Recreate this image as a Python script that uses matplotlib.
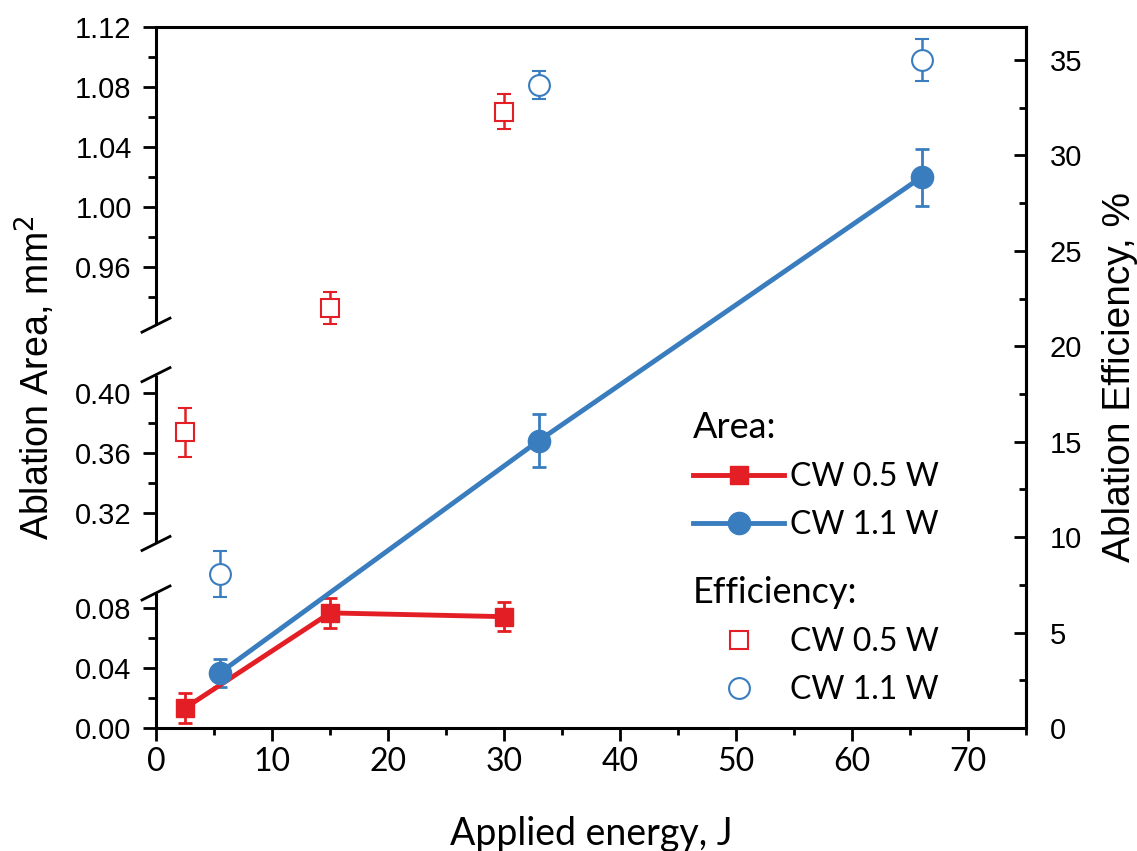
import numpy as np
import matplotlib
matplotlib.use("Agg")
import matplotlib.pyplot as plt
from matplotlib.lines import Line2D
from matplotlib.ticker import FixedLocator, MultipleLocator

plt.rcParams['font.family'] = ['Liberation Sans', 'DejaVu Sans']

# applied energy, J
energy_05 = [2.5, 15, 30]
energy_11 = [5.5, 33, 66]

# ablation area, mm^2 (left axis)
area_05 = [0.0133, 0.0767, 0.0742]
area_05_err = [0.010, 0.010, 0.0095]
area_11 = [0.0367, 0.368, 1.020]
area_11_err = [0.0093, 0.0177, 0.019]

# ablation efficiency, % (right axis)
eff_05 = [15.5, 22.0, 32.3]
eff_05_err = [1.29, 0.85, 0.94]
eff_11 = [8.06, 33.7, 35.0]
eff_11_err = [1.2, 0.74, 1.08]

left_major = [0.00, 0.04, 0.08, 0.32, 0.36, 0.40, 0.96, 1.00, 1.04, 1.08, 1.12]
left_minor = [0.02, 0.06, 0.34, 0.38, 0.94, 0.98, 1.02, 1.06, 1.10]

# visible pieces of the broken left axis
pieces = [(0.0, 0.09), (0.2995, 0.412), (0.9213, 1.12)]
gap = 0.033

RED = '#e31e24'
BLUE = '#3a7dbf'

# piecewise linear mapping used for the broken axis
vals = [pieces[0][0]]
pos = [0.0]
for i, (lo, hi) in enumerate(pieces):
    if i > 0:
        vals.append(lo)
        pos.append(pos[-1] + gap)
    vals.append(hi)
    pos.append(pos[-1] + (hi - lo))
vals = np.array(vals)
pos = np.array(pos)

def fwd(v):
    return np.interp(v, vals, pos)

def inv(p):
    return np.interp(p, pos, vals)

fig = plt.figure(figsize=(11.37, 8.51), dpi=100)
ax = fig.add_axes([156 / 1137, 123 / 851, 870 / 1137, 701 / 851])

ax.set_yscale('function', functions=(fwd, inv))
ax.set_xlim(0, 75)
ax.set_ylim(0, 1.12)

ax.errorbar(energy_05, area_05, yerr=area_05_err, fmt='none', ecolor=RED,
            elinewidth=2, capsize=5, capthick=2, zorder=3)
ax.errorbar(energy_11, area_11, yerr=area_11_err, fmt='none', ecolor=BLUE,
            elinewidth=2, capsize=5, capthick=2, zorder=3)
l05, = ax.plot(energy_05, area_05, '-s', color=RED, lw=3.5, ms=13, zorder=4)
l11, = ax.plot(energy_11, area_11, '-o', color=BLUE, lw=3.5, ms=16, zorder=5)

ax.yaxis.set_major_locator(FixedLocator(left_major))
ax.yaxis.set_minor_locator(FixedLocator(left_minor))
ax.set_yticklabels(['%.2f' % v for v in left_major])
ax.xaxis.set_major_locator(MultipleLocator(10))
ax.xaxis.set_minor_locator(MultipleLocator(5))

ax.tick_params(axis='y', which='major', direction='out', length=9.5, width=2,
               pad=8, labelsize=21)
ax.tick_params(axis='y', which='minor', direction='out', length=5.5, width=2)
ax.tick_params(axis='x', which='major', direction='out', length=9, width=2,
               pad=5, labelsize=23)
ax.tick_params(axis='x', which='minor', direction='out', length=5, width=2)
for lbl in ax.get_xticklabels():
    lbl.set_fontfamily('Lato')

for s in ['top', 'right', 'bottom']:
    ax.spines[s].set_linewidth(2.2)
ax.spines['left'].set_visible(False)

# broken left spine with slash marks
to_axes = ax.transAxes.inverted()
dx, dy = 14 / 870, 7 / 701
for lo, hi in pieces:
    ylo = to_axes.transform(ax.transData.transform((0, lo)))[1]
    yhi = to_axes.transform(ax.transData.transform((0, hi)))[1]
    ax.plot([0, 0], [ylo, yhi], color='black', lw=2.2, transform=ax.transAxes,
            clip_on=False, solid_capstyle='butt', zorder=6)
    if lo > 0:
        ax.plot([-dx, dx], [ylo - dy, ylo + dy], color='black', lw=2,
                transform=ax.transAxes, clip_on=False, zorder=6)
    if hi < 1.12:
        ax.plot([-dx, dx], [yhi - dy, yhi + dy], color='black', lw=2,
                transform=ax.transAxes, clip_on=False, zorder=6)

ax.set_ylabel('Ablation Area, mm$^2$', fontsize=27, rotation=90,
              rotation_mode='anchor', ha='center', va='baseline')
ax.yaxis.set_label_coords(-0.1218, 0.5)
ax.set_xlabel('Applied energy, J', fontsize=27, fontfamily='Lato')
ax.xaxis.set_label_coords(0.5, -0.125)

# efficiency on the right axis
ax2 = ax.twinx()
ax2.set_ylim(0, 36.73)
for s in ['left', 'top', 'bottom']:
    ax2.spines[s].set_visible(False)
ax2.spines['right'].set_linewidth(2.2)
ax2.errorbar(energy_05, eff_05, yerr=eff_05_err, fmt='s', mfc='white', mec=RED,
             mew=1.5, ms=13, ecolor=RED, elinewidth=1.8, capsize=5, capthick=2)
ax2.errorbar(energy_11, eff_11, yerr=eff_11_err, fmt='o', mfc='white', mec=BLUE,
             mew=1.5, ms=15, ecolor=BLUE, elinewidth=1.8, capsize=5, capthick=2)
ax2.yaxis.set_major_locator(MultipleLocator(5))
ax2.yaxis.set_minor_locator(MultipleLocator(2.5))
ax2.tick_params(axis='y', which='major', direction='in', length=9, width=2,
                pad=17, labelsize=21)
ax2.tick_params(axis='y', which='minor', direction='in', length=5, width=2)
ax2.set_ylabel('Ablation Efficiency, %', fontsize=28, rotation=90,
               rotation_mode='anchor', ha='center', va='baseline')
ax2.yaxis.set_label_coords(1.12, 0.5)

# legends
h05 = Line2D([], [], ls='none', marker='s', mfc='white', mec=RED, mew=1.5, ms=13)
h11 = Line2D([], [], ls='none', marker='o', mfc='white', mec=BLUE, mew=1.5, ms=15)
leg_kw = dict(loc='upper left', frameon=False, alignment='left', borderpad=0,
              borderaxespad=0, handlelength=2.85, handletextpad=0.2,
              labelspacing=0.56, prop={'family': 'Lato', 'size': 23},
              title_fontproperties={'family': 'Lato', 'size': 26})
leg1 = ax2.legend([l05, l11], ['CW 0.5 W', 'CW 1.1 W'], title='Area:',
                  bbox_to_anchor=((693 - 156) / 870, (728 - 411) / 701), **leg_kw)
ax2.add_artist(leg1)
ax2.legend([h05, h11], ['CW 0.5 W', 'CW 1.1 W'], title='Efficiency:',
           bbox_to_anchor=((693 - 156) / 870, (728 - 576) / 701), **leg_kw)

fig.savefig('out.png', dpi=100)
